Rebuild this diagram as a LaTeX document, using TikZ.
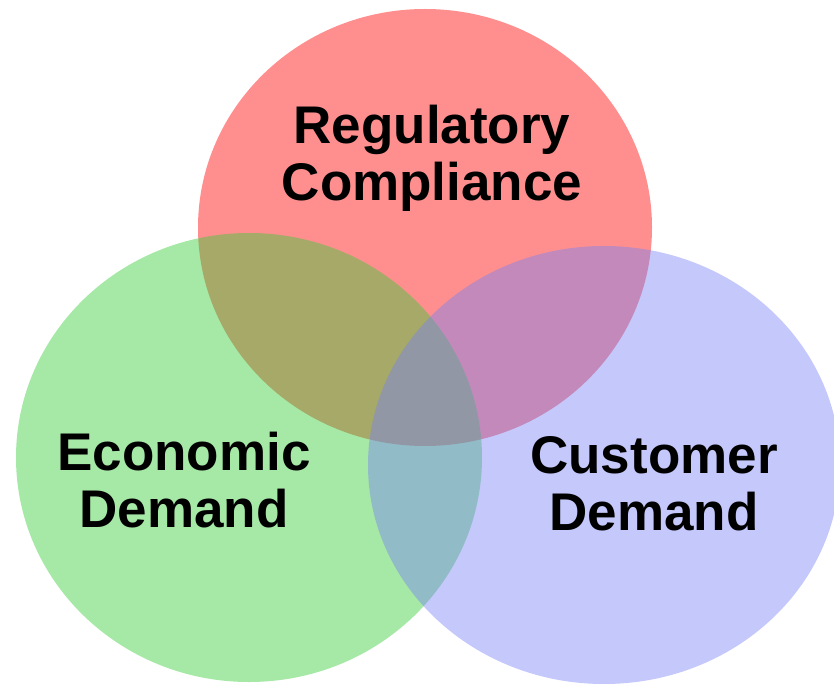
\documentclass[tikz,border=0pt]{standalone}
\usepackage{fontspec}
\setmainfont{Liberation Sans}
\definecolor{regred}{RGB}{255,0,0}
\definecolor{ecogreen}{RGB}{53,203,53}
\definecolor{custblue}{RGB}{121,130,244}
\begin{document}
\begin{tikzpicture}[x=1pt,y=-1pt,
  circ/.style={fill opacity=0.44,draw=none},
  lbl/.style={align=center,font=\fontsize{53}{57}\selectfont\bfseries}]
\useasboundingbox (0,0) rectangle (834,684);
\fill[circ,regred] (425,227.5) ellipse (227pt and 218.5pt);
\fill[circ,ecogreen] (249,457.5) ellipse (233pt and 224.5pt);
\fill[circ,custblue] (604,465) ellipse (236pt and 219pt);
\node[lbl] (reg) at (432,158) {Regulatory\\Compliance};
\node[lbl] (eco) at (184,480) {Economic\\Demand};
\node[lbl] (cust) at (654,484) {Customer\\Demand};
\end{tikzpicture}
\end{document}
